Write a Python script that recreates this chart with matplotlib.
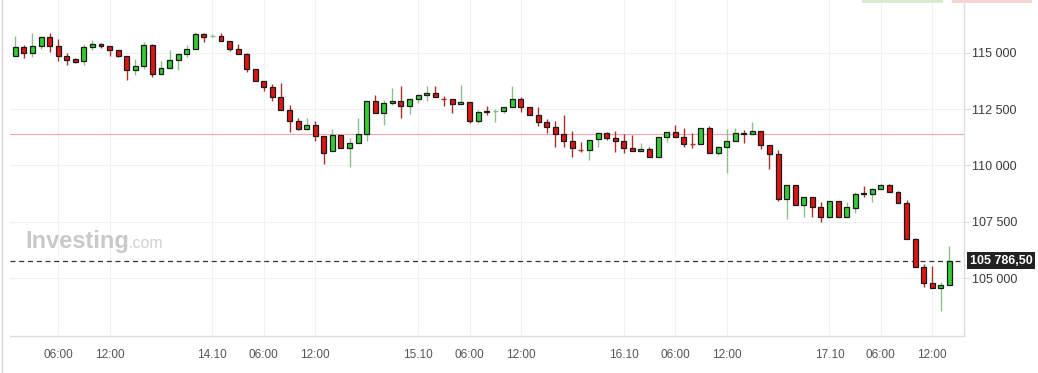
import matplotlib
matplotlib.use("Agg")
import matplotlib.pyplot as plt
from matplotlib.patches import Rectangle
from matplotlib.lines import Line2D

plt.rcParams['font.family'] = ['Liberation Sans', 'DejaVu Sans']

# ---------------- data (hourly candles, hour counted from 13.10 00:00) ----------------
hours = list(range(1, 111))
opens = [114840, 115240, 114970, 115280, 115680, 115280, 114840, 114710, 114620, 115240,
         115370, 115280, 115110, 114840, 114220, 114400, 115330, 114040, 114310, 114660,
         114930, 115150, 115820, 115745, 115730, 115510, 115150, 114960, 114260, 113730,
         113470, 113020, 112450, 111960, 111630, 111780, 111310, 110630, 111340, 110770,
         110980, 111380, 112850, 112310, 112760, 112860, 112620, 112960, 113110, 113200,
         112965, 112950, 112710, 112800, 111990, 112410, 112425, 112430, 112580, 112930,
         112580, 112220, 111910, 111690, 111380, 111070, 110695, 110690, 111160, 111430,
         111230, 111100, 110790, 110630, 110720, 110390, 111250, 111470, 111280, 110945,
         110940, 111650, 110540, 110810, 111100, 111450, 111400, 111520, 110900, 110510,
         108530, 109150, 108240, 108590, 108150, 107730, 108410, 107730, 108130, 108780,
         108750, 108940, 109120, 108810, 108320, 106730, 105510, 104800, 104560, 104690]
highs = [115750, 115340, 115860, 115750, 115860, 115610, 114970, 114780, 115390, 115560,
         115420, 115290, 115110, 114840, 114710, 115460, 115370, 114620, 115120, 114970,
         115340, 115900, 115860, 115820, 115860, 115510, 115390, 114970, 114260, 113730,
         113600, 113660, 112670, 112120, 112090, 111960, 111310, 111630, 111340, 111220,
         112120, 112850, 113120, 112900, 113440, 113520, 112960, 113170, 113520, 113520,
         113080, 112960, 113570, 112800, 112460, 112640, 112490, 112610, 113520, 113020,
         112580, 112610, 112060, 111970, 112220, 111530, 111050, 111130, 111480, 111500,
         111530, 111400, 111350, 110980, 110810, 111250, 111470, 111800, 111650, 111430,
         111650, 111750, 110860, 111600, 111660, 111570, 111910, 111520, 110900, 110690,
         109150, 109150, 108590, 108620, 108380, 108440, 108410, 108380, 108810, 109090,
         108990, 109170, 109170, 108860, 108470, 106800, 105620, 105540, 104830, 106430]
lows = [114840, 114780, 114820, 115150, 115040, 114650, 114470, 114560, 114470, 115110,
        115200, 114840, 114800, 113800, 114000, 114260, 113910, 114040, 114310, 114250,
        114800, 115150, 115460, 115680, 115510, 115060, 114960, 114160, 113730, 113320,
        112870, 112450, 111500, 111590, 111570, 111100, 110070, 110630, 110780, 109950,
        110980, 111100, 112310, 111810, 112690, 112120, 112300, 112760, 112870, 113020,
        112650, 112340, 112710, 111870, 111870, 112220, 111940, 112310, 112580, 112380,
        112220, 111760, 111430, 110810, 110830, 110390, 110610, 110230, 110830, 111130,
        110580, 110570, 110630, 110630, 110390, 110390, 111030, 111280, 110830, 110790,
        110940, 110540, 110480, 109680, 111100, 111010, 111400, 110740, 109860, 108440,
        107610, 108240, 107700, 107700, 107510, 107660, 107730, 107730, 107910, 108590,
        108370, 108940, 108810, 108320, 106730, 105510, 104600, 104560, 103560, 104690]
closes = [115240, 114970, 115280, 115680, 115280, 114840, 114690, 114600, 115240, 115370,
          115280, 115110, 114840, 114220, 114400, 115330, 114040, 114310, 114660, 114930,
          115150, 115820, 115680, 115755, 115510, 115150, 114960, 114260, 113730, 113470,
          113020, 112450, 111960, 111630, 111780, 111310, 110570, 111340, 110780, 110980,
          111380, 112850, 112310, 112760, 112860, 112620, 112960, 113110, 113200, 113020,
          112955, 112710, 112800, 111990, 112360, 112350, 112435, 112580, 112930, 112580,
          112220, 111910, 111690, 111380, 111070, 110760, 110685, 111130, 111430, 111230,
          111100, 110790, 110630, 110720, 110390, 111250, 111470, 111280, 110940, 110935,
          111650, 110540, 110810, 111100, 111430, 111400, 111520, 110900, 110510, 108530,
          109150, 108240, 108590, 108150, 107730, 108410, 107730, 108150, 108720, 108720,
          108940, 109120, 108810, 108320, 106730, 105510, 104800, 104560, 104690, 105786.5]

ref_price = 111380
last_price = 105786.50
last_label = "105 786,50"

ytick_vals = [105000, 107500, 110000, 112500, 115000]
ytick_labels = ["105 000", "107 500", "110 000", "112 500", "115 000"]
xtick_hours = [6, 12, 24, 30, 36, 48, 54, 60, 72, 78, 84, 96, 102, 108]
xtick_labels = ["06:00", "12:00", "14.10", "06:00", "12:00", "15.10", "06:00", "12:00",
                "16.10", "06:00", "12:00", "17.10", "06:00", "12:00"]

# ---------------- styling ----------------
UP_FILL = '#34cc34'
DN_FILL = '#dd1515'
UP_WICK = '#8dbf8d'
DN_WICK = '#a8322a'
EDGE = '#1a1a1a'
W = 0.58

W_PX, H_PX = 1038, 373
fig = plt.figure(figsize=(W_PX / 100, H_PX / 100), dpi=100)
fig.patch.set_facecolor('white')

ax_l, ax_r, ax_b, ax_t = 10, 964, 336, 0
ax = fig.add_axes([ax_l / W_PX, (H_PX - ax_b) / H_PX, (ax_r - ax_l) / W_PX, (ax_b - ax_t) / H_PX])
ax.set_facecolor('white')

ax.set_xlim(0.38, 111.70)
ax.set_ylim(102440, 117336)

# grid
for v in ytick_vals:
    ax.axhline(v, color='#f0f0f0', lw=0.8, zorder=0)
for h in xtick_hours:
    ax.axvline(h, color='#f1f1f1', lw=0.8, zorder=0)

# reference line and last price line
ax.axhline(ref_price, color='#f4a9b2', lw=0.9, zorder=1)
ax.axhline(last_price, color='#333333', lw=0.9, dashes=(4, 3), zorder=1)

# candles
for h, o, hi, lo, c in zip(hours, opens, highs, lows, closes):
    up = c >= o
    wick = UP_WICK if up else DN_WICK
    fill = UP_FILL if up else DN_FILL
    ax.vlines(h, lo, hi, colors=wick, lw=1.0, zorder=2)
    if abs(c - o) < 30:
        ax.hlines((o + c) / 2, h - W / 2, h + W / 2, colors=wick, lw=1.0, zorder=3)
    else:
        ax.bar(h, abs(c - o), bottom=min(o, c), width=W, color=fill,
               edgecolor=EDGE, linewidth=0.9, zorder=3)

# axes styling
for s in ['top', 'left']:
    ax.spines[s].set_visible(False)
ax.spines['bottom'].set_color('#dcdcdc')
ax.spines['right'].set_color('#dcdcdc')
ax.spines['bottom'].set_linewidth(1.0)
ax.spines['right'].set_linewidth(1.0)

ax.yaxis.tick_right()
ax.set_yticks(ytick_vals)
ax.set_yticklabels(ytick_labels)
ax.tick_params(axis='y', length=4, width=0.8, color='#dcdcdc', pad=2,
               labelsize=9, labelcolor='#3a3a3a')
ax.set_xticks(xtick_hours)
ax.set_xticklabels(xtick_labels)
ax.tick_params(axis='x', length=0, pad=9, labelsize=8.5, labelcolor='#555555')

# last price label
ax.annotate(last_label, xy=(1.0, last_price), xycoords=('axes fraction', 'data'),
            xytext=(4, 0), textcoords='offset points', ha='left', va='center',
            color='white', fontsize=9, fontweight='bold',
            bbox=dict(boxstyle='square,pad=0.22', facecolor='#222222', edgecolor='none'),
            annotation_clip=False, zorder=5)

# watermark
ax.text(0.0157, 0.262, "Investing", transform=ax.transAxes, fontsize=17,
        fontweight='bold', color='#c9c9c9', ha='left', va='baseline', zorder=1)
ax.text(0.1245, 0.262, ".com", transform=ax.transAxes, fontsize=11.5,
        color='#d0d0d0', ha='left', va='baseline', zorder=1)

# page left border and top-right button remnants
fig.add_artist(Line2D([2 / W_PX, 2 / W_PX], [0, 1], color='#d6d6d6', lw=1.0))
fig.add_artist(Rectangle((862 / W_PX, 1 - 3 / H_PX), 81 / W_PX, 3 / H_PX,
                         facecolor='#d7ebcf', edgecolor='none'))
fig.add_artist(Rectangle((952 / W_PX, 1 - 3 / H_PX), 80 / W_PX, 3 / H_PX,
                         facecolor='#f8d3d3', edgecolor='none'))

fig.savefig('out.png', dpi=100, facecolor='white')
